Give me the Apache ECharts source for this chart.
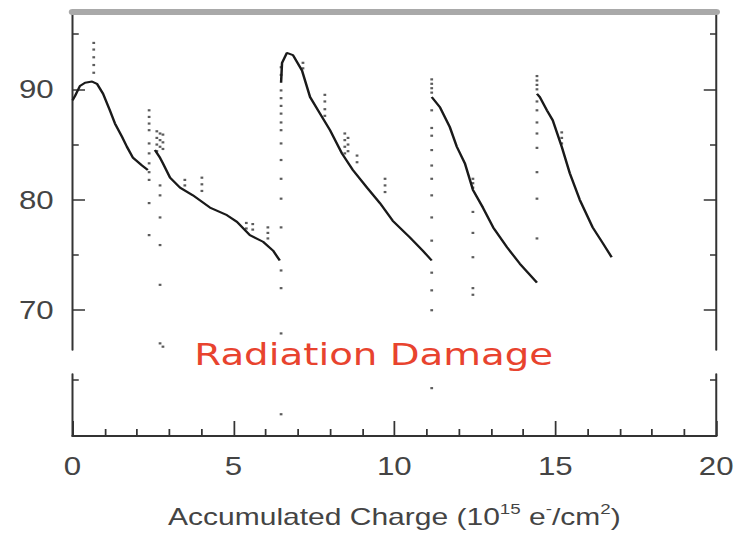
<!DOCTYPE html>
<html>
<head>
<meta charset="utf-8">
<script src="https://cdn.jsdelivr.net/npm/echarts@6/dist/echarts.min.js"></script>
<style>
    html, body { margin: 0; padding: 0; background: #fff; overflow: hidden; }
    /* the reference is stretched sideways, so draw narrow and widen */
    #main { width: 592px; height: 533px; transform: scaleX(1.25); transform-origin: 0 0; }
</style>
</head>
<body>
<div id="main"></div>
<script>
// x: accumulated charge, y: percent
var run1a = [[0, 89.0], [0.08, 89.4], [0.23, 90.3], [0.39, 90.6], [0.61, 90.7], [0.76, 90.5], [0.95, 89.6],
    [1.16, 88.1], [1.32, 86.9], [1.54, 85.7], [1.69, 84.8], [1.88, 83.8], [2.16, 83.1], [2.34, 82.7]];
var run1b = [[2.56, 84.5], [2.72, 83.8], [2.81, 83.3], [3.03, 82.0], [3.34, 81.1], [3.74, 80.4], [4.27, 79.3],
    [4.80, 78.6], [5.11, 78.0], [5.51, 76.8], [5.92, 76.2], [6.23, 75.4], [6.44, 74.5]];
var run2 = [[6.48, 90.6], [6.51, 92.4], [6.66, 93.3], [6.85, 93.1], [7.13, 91.7], [7.38, 89.3], [7.69, 87.8],
    [8.0, 86.3], [8.37, 84.2], [8.71, 82.7], [9.15, 81.1], [9.55, 79.7], [9.95, 78.1], [10.48, 76.6],
    [10.88, 75.4], [11.16, 74.5]];
var run3 = [[11.16, 89.3], [11.41, 88.4], [11.72, 86.6], [11.94, 84.8], [12.19, 83.3], [12.44, 80.9],
    [12.75, 79.3], [13.07, 77.5], [13.5, 75.7], [13.9, 74.2], [14.43, 72.5]];
var run4 = [[14.43, 89.6], [14.52, 89.3], [14.74, 88.1], [14.92, 87.2], [15.2, 84.8], [15.45, 82.4],
    [15.76, 80.0], [16.16, 77.5], [16.47, 76.1], [16.75, 74.8]];

// stray readings: x, then the y values seen in that column
var strayCols = [
    [0.66, [91.5, 92.2, 92.9, 93.6, 94.2]],
    [2.38, [88.1, 87.5, 86.9, 86.3, 85.1, 84.2, 83.3, 82.5, 81.8, 79.7, 76.8]],
    [2.62, [86.2, 85.6, 85.0, 84.4]],
    [2.72, [86.0, 85.4, 84.8, 81.3, 80.4, 78.4, 75.9, 72.3, 67.0]],
    [2.81, [85.9, 85.2, 84.6, 66.7]],
    [3.49, [81.8, 81.3]],
    [4.02, [82.0, 81.4, 80.8]],
    [5.40, [77.9, 77.4]],
    [5.60, [77.8, 77.3]],
    [6.07, [77.5, 77.0, 76.5]],
    [6.48, [92.0, 91.3, 89.9, 89.2, 88.5, 87.8, 87.0, 86.3, 85.1, 83.6, 81.9, 80.1, 77.5, 73.6, 72.0, 67.9]],
    [7.16, [92.4, 91.9]],
    [7.84, [89.5, 88.9, 88.2, 87.6]],
    [8.46, [86.0, 85.4, 84.8, 84.2]],
    [8.56, [85.6, 85.0, 84.4]],
    [8.84, [84.0, 83.4]],
    [9.71, [81.9, 81.3, 80.7]],
    [11.16, [90.9, 90.5, 90.1, 89.7, 88.1, 86.5, 85.8, 84.5, 83.1, 81.9, 80.4, 78.4, 76.3, 73.4, 71.8, 70.0]],
    [12.44, [81.9, 81.5, 81.1, 78.9, 77.0, 74.8, 72.0, 71.4]],
    [14.43, [91.2, 90.8, 90.4, 90.0, 88.9, 88.1, 87.0, 86.0, 84.7, 82.5, 80.1, 76.5]],
    [15.2, [86.1, 85.6, 85.1]]
];
// readings below the axis break
var lowDots = [[6.48, 58.0], [11.16, 60.4]];

var xTicks = [0, 5, 10, 15, 20];
var yLabels = [70, 80, 90];
var yMinor = [75, 85, 95];

var strayDots = [];
strayCols.forEach(function (c) {
    c[1].forEach(function (v) { strayDots.push([c[0], v]); });
});

var axisColor = '#333';
var textColor = '#444';

function upperY(pos, ticks, len, line, labels) {
    return {
        type: 'value', gridIndex: 0, position: pos, min: 66.4, max: 97,
        axisLine: { show: line, lineStyle: { color: axisColor, width: 1.6 } },
        axisTick: { show: true, inside: true, length: len, customValues: ticks,
            lineStyle: { color: axisColor, width: 1.5 } },
        axisLabel: labels ? { customValues: ticks, fontSize: 25, color: textColor, margin: 15,
            fontFamily: 'Liberation Sans' } : { show: false },
        splitLine: { show: false }
    };
}
function lowerY(pos) {
    return {
        type: 'value', gridIndex: 1, position: pos, min: 56, max: 61.7,
        axisLine: { show: true, lineStyle: { color: axisColor, width: 1.6 } },
        axisTick: { show: true, inside: true, length: 5, customValues: [61.2],
            lineStyle: { color: axisColor, width: 1.5 } },
        axisLabel: { show: false },
        splitLine: { show: false }
    };
}
function runSeries(data) {
    return {
        type: 'line', xAxisIndex: 0, yAxisIndex: 0, data: data, showSymbol: false,
        lineStyle: { color: '#1a1a1a', width: 2 }, silent: true
    };
}

var myChart = echarts.init(document.getElementById('main'), null, { renderer: 'svg' });
myChart.setOption({
    animation: false,
    grid: [
        { left: 58, right: 19, top: 12, height: 338 },
        { left: 58, right: 19, top: 374, height: 63 }
    ],
    xAxis: [{
        type: 'value', gridIndex: 0, position: 'top', min: 0, max: 20,
        axisLine: { show: true, lineStyle: { color: '#a9a9a9', width: 6 } },
        axisTick: { show: false }, axisLabel: { show: false }, splitLine: { show: false }
    }, {
        type: 'value', gridIndex: 1, position: 'bottom', min: 0, max: 20, interval: 5,
        axisLine: { show: true, lineStyle: { color: axisColor, width: 2 } },
        axisTick: { show: true, inside: true, length: 15, lineStyle: { color: axisColor, width: 1.4 } },
        minorTick: { show: true, splitNumber: 5, length: 7, lineStyle: { color: axisColor, width: 1.4 } },
        axisLabel: { customValues: xTicks, fontSize: 25, color: textColor, margin: 18,
            fontFamily: 'Liberation Sans' },
        splitLine: { show: false },
        name: 'Accumulated Charge (10{s|15} e{s|-}/cm{s|2})',
        nameLocation: 'middle', nameGap: 66,
        nameTextStyle: {
            fontSize: 24, color: textColor, fontFamily: 'Liberation Sans', lineHeight: 30,
            rich: { s: { fontSize: 15, color: textColor, fontFamily: 'Liberation Sans',
                verticalAlign: 'top', lineHeight: 17 } }
        }
    }],
    yAxis: [
        upperY('left', yLabels, 10, true, true),
        upperY('left', yMinor, 5, false, false),
        upperY('right', yLabels, 10, true, false),
        upperY('right', yMinor, 5, false, false),
        lowerY('left'),
        lowerY('right')
    ],
    graphic: [{
        type: 'text', x: 299, y: 354, silent: true,
        style: { text: 'Radiation Damage', fontSize: 31, fontFamily: 'DejaVu Sans',
            fill: '#e8432e', align: 'center', verticalAlign: 'middle' }
    }],
    series: [
        runSeries(run1a), runSeries(run1b), runSeries(run2), runSeries(run3), runSeries(run4),
        {
            type: 'scatter', xAxisIndex: 0, yAxisIndex: 0, data: strayDots,
            symbol: 'rect', symbolSize: 2.2, itemStyle: { color: '#333' }, silent: true
        },
        {
            type: 'scatter', xAxisIndex: 1, yAxisIndex: 4, data: lowDots,
            symbol: 'rect', symbolSize: 2.2, itemStyle: { color: '#333' }, silent: true
        }
    ]
});
</script>
</body>
</html>
